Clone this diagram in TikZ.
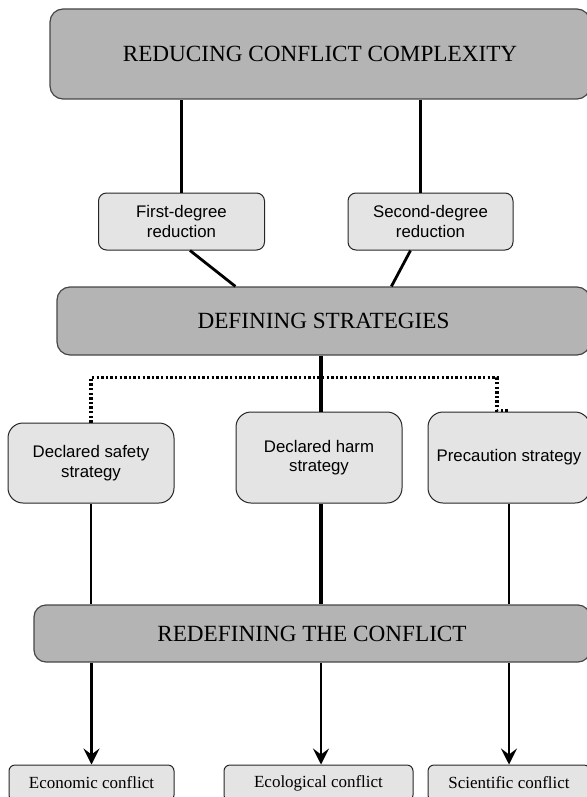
\documentclass[tikz,border=0pt]{standalone}
\usepackage{fontspec}
\setmainfont{Liberation Serif}
\setsansfont{Liberation Sans}
\usetikzlibrary{arrows.meta,calc,positioning}
\definecolor{stagegray}{RGB}{180,180,180}
\definecolor{optiongray}{RGB}{228,228,228}
\definecolor{edgegray}{RGB}{70,70,70}

\begin{document}
\begin{tikzpicture}[
  x=0.5pt, y=-0.5pt,
  stage/.style={draw=edgegray, line width=0.6pt, fill=stagegray, rounded corners=6.5pt, align=center, inner sep=0pt, font=\fontsize{11.6}{14}\selectfont},
  option/.style={draw=black!85, line width=0.5pt, fill=optiongray, align=center, inner sep=0pt, font=\sffamily\fontsize{8.4}{9.8}\selectfont},
  outcome/.style={draw=black!85, line width=0.5pt, fill=optiongray, rounded corners=3pt, inner sep=0pt, font=\fontsize{8.5}{10}\selectfont},
  link/.style={line width=1.4pt},
  mainlink/.style={line width=2.3pt},
  dots/.style={line width=1.7pt, dash pattern=on 1.2pt off 1.1pt},
  arrow/.style={line width=1.4pt, -{Stealth[length=8pt, width=8pt, inset=3pt]}}
]
\useasboundingbox (0,0) rectangle (587,797);
\clip (0,0) rectangle (587,797);

% stages
\node[stage, minimum width=270pt, minimum height=45pt] (reduce) at (320,54) {REDUCING CONFLICT COMPLEXITY};
\node[stage, minimum width=266.5pt, minimum height=34pt] (define) at (323.5,321) {DEFINING STRATEGIES};
\node[stage, rounded corners=6pt, minimum width=278pt, minimum height=28.5pt] (redefine) at (312,633.5) {REDEFINING THE CONFLICT};

% reductions
\node[option, rounded corners=4pt, minimum width=83pt, minimum height=28.5pt] (first) at (181.5,221.5) {First-degree\\reduction};
\node[option, rounded corners=4pt, minimum width=82.5pt, minimum height=28.5pt] (second) at (430.5,221.5) {Second-degree\\reduction};

% strategies
\node[option, rounded corners=7.5pt, minimum width=83pt, minimum height=40pt] (safety) at (91,463) {Declared safety\\strategy};
\node[option, rounded corners=7.5pt, minimum width=83pt, minimum height=45.5pt] (harm) at (319,457.5) {Declared harm\\strategy};
\node[option, rounded corners=7.5pt, minimum width=81pt, minimum height=45.5pt] (precaution) at (509,457.5) {Precaution strategy};

% conflicts
\node[outcome, minimum width=82.5pt, minimum height=18pt] (econ) at (91.5,783) {Economic conflict};
\node[outcome, minimum width=94.5pt, minimum height=18pt] (ecol) at (318.5,783) {Ecological conflict};
\node[outcome, minimum width=81pt, minimum height=18pt] (sci) at (509,783) {Scientific conflict};

% connector ends
\coordinate (secondtop) at ($(second.north)+(-10,0)$);
\coordinate (harmtop) at ($(harm.north)+(2,0)$);
\coordinate (harmfoot) at ($(harm.south)+(2,0)$);
\coordinate (ecoltop) at ($(ecol.north)+(2.5,0)$);
\coordinate (precjog) at ($(precaution.north)+(-12,-1)$);

\draw[link] (first.north) -- (first.north |- reduce.south);
\draw[link] (secondtop) -- (secondtop |- reduce.south);
\draw[link] ($(first.south)+(8.5,0)$) -- ($(define.north west)+(179,0)$);
\draw[link] ($(second.south)+(-20,0)$) -- ($(define.north west)+(335,0)$);

\draw[dots] (safety.north) -- ++(0,-45) -| (precjog) -- ($(precaution.north)+(0,-1)$);
\draw[mainlink] (harmtop |- define.south) -- (harmtop);

\draw[link] (safety.south) -- (safety.south |- redefine.north);
\draw[mainlink] (harmfoot) -- (harmfoot |- redefine.north);
\draw[link] (precaution.south) -- (precaution.south |- redefine.north);

\draw[arrow] (redefine.south -| econ.north) -- (econ.north);
\draw[arrow] (ecoltop |- redefine.south) -- (ecoltop);
\draw[arrow] (redefine.south -| sci.north) -- (sci.north);
\end{tikzpicture}
\end{document}
